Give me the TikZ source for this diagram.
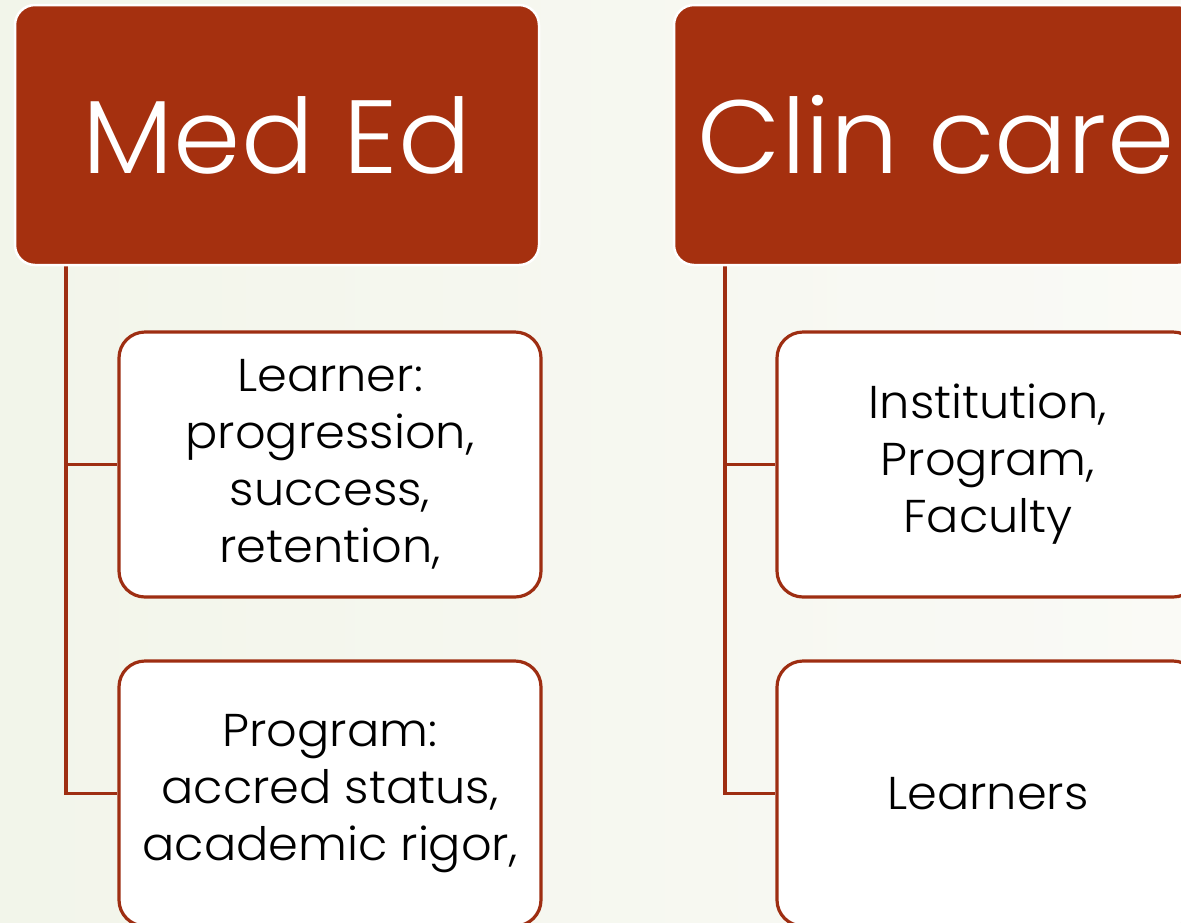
\documentclass[tikz,border=0pt]{standalone}
\usepackage{fontspec}
\setmainfont{Poppins Light}[FakeStretch=1.04]
\definecolor{hdr}{HTML}{A5300F}
\definecolor{lin}{HTML}{9E2E12}
\definecolor{bgl}{HTML}{F2F5EA}
\definecolor{bgr}{HTML}{FAFAF6}
\tikzset{
  header/.style={draw=white, line width=2.5pt, fill=hdr, rounded corners=20pt, minimum width=524pt, minimum height=260pt, text=white, font=\fontsize{104}{110}\selectfont, inner sep=0pt},
  child/.style={draw=lin, line width=3.2pt, fill=white, rounded corners=26pt, minimum width=422pt, minimum height=265pt, text=black, align=center, font=\fontsize{46}{57}\selectfont, inner sep=0pt},
  conn/.style={draw=lin, line width=3.4pt}
}
\begin{document}
\begin{tikzpicture}[x=1pt,y=-1pt]
\useasboundingbox (0,0) rectangle (1181,922);
\clip (0,0) rectangle (1181,922);
\shade[left color=bgl, right color=bgr] (0,0) rectangle (1181,922);
\coordinate (t1) at (66,265);
\coordinate (t2) at (725,265);
\node[child] (c11) at (330,464.5) {Learner:\\progression,\\success,\\retention,};
\node[child] (c12) at (330,793.5) {Program:\\accred status,\\academic rigor,};
\node[child] (c21) at (988,464.5) {Institution,\\Program,\\Faculty};
\node[child] (c22) at (988,793.5) {Learners};
\draw[conn] (t1) |- (c11.west);
\draw[conn] (t1) |- (c12.west);
\draw[conn] (t2) |- (c21.west);
\draw[conn] (t2) |- (c22.west);
\node[header] (h1) at (277,135) {Med Ed};
\node[header] (h2) at (936,135) {Clin care};
\end{tikzpicture}
\end{document}
